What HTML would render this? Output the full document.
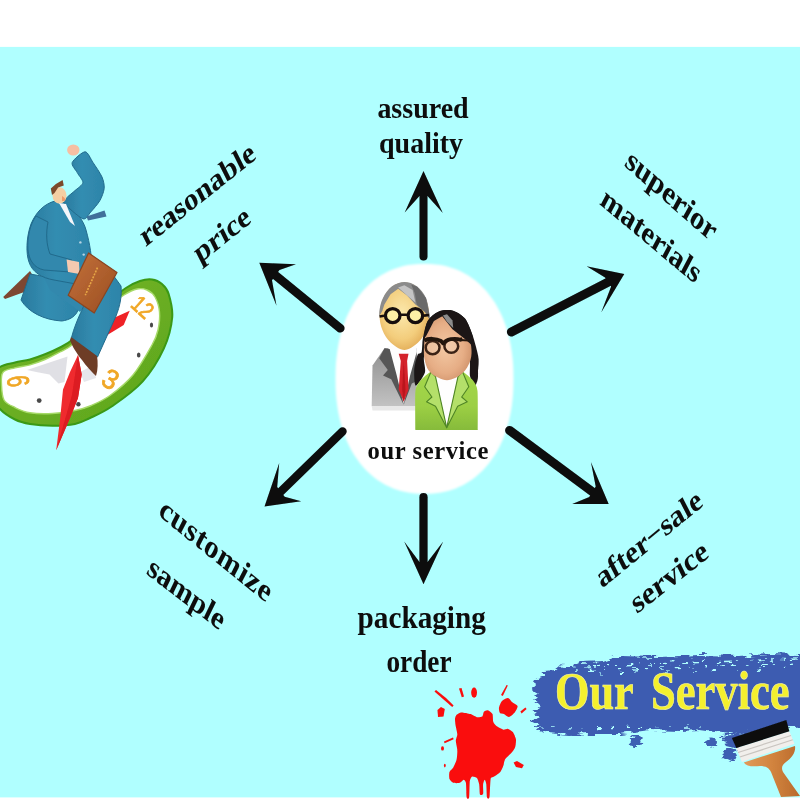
<!DOCTYPE html>
<html><head><meta charset="utf-8">
<style>
html,body{margin:0;padding:0;background:#fff;}
svg{display:block;}
text{font-family:"Liberation Serif",serif;font-weight:bold;fill:#0c0c0c;}
</style></head>
<body>
<svg width="800" height="800" viewBox="0 0 800 800">
<defs>
<filter id="b1" x="-5%" y="-5%" width="110%" height="110%"><feGaussianBlur stdDeviation="0.6"/></filter>
<filter id="b2" x="-5%" y="-5%" width="110%" height="110%"><feGaussianBlur stdDeviation="1"/></filter>
<filter id="rough" x="-5%" y="-10%" width="110%" height="120%">
<feTurbulence type="fractalNoise" baseFrequency="0.09 0.35" numOctaves="2" seed="7" result="n"/>
<feDisplacementMap in="SourceGraphic" in2="n" scale="9" xChannelSelector="R" yChannelSelector="G" result="d"/>
<feGaussianBlur in="d" stdDeviation="0.5"/>
</filter>
</defs>
<rect x="0" y="0" width="800" height="800" fill="#ffffff"/>
<rect x="0" y="46.9" width="800" height="750.5" fill="#b0ffff"/>
<!-- BG-END -->


<!-- clock + running man -->
<defs>
<linearGradient id="gRim" x1="0" y1="0" x2="1" y2="1">
<stop offset="0" stop-color="#74b82c"/><stop offset="0.5" stop-color="#6bae22"/><stop offset="1" stop-color="#5aa51c"/>
</linearGradient>
<linearGradient id="gSuit" x1="0" y1="0" x2="1" y2="0">
<stop offset="0" stop-color="#2a7a9e"/><stop offset="0.45" stop-color="#338db1"/><stop offset="1" stop-color="#2d84a9"/>
</linearGradient>
<linearGradient id="gCase" x1="0" y1="0" x2="1" y2="1">
<stop offset="0" stop-color="#c4713a"/><stop offset="1" stop-color="#9a4e22"/>
</linearGradient>
</defs>
<g id="clockman" filter="url(#b1)">
<!-- clock rim -->
<path d="M152.0 279.5 C155.7 280.0 159.2 281.6 162.0 284.0 C164.8 286.4 166.9 288.1 168.6 293.7 C170.3 299.3 173.0 308.4 172.2 317.5 C171.4 326.6 168.8 337.7 163.9 348.4 C159.0 359.1 151.2 371.9 142.5 381.6 C133.8 391.3 120.3 400.4 111.6 406.5 C102.8 412.6 96.1 415.1 90.0 418.0 C83.9 420.9 81.2 422.7 75.0 424.0 C68.8 425.3 60.0 425.8 52.5 425.8 C45.0 425.8 36.2 425.1 30.0 424.0 C23.8 422.9 20.0 422.0 15.0 419.5 C10.0 417.0 3.8 413.1 0.0 409.0 C-3.8 404.9 -6.7 400.2 -8.0 395.0 C-9.3 389.8 -9.3 382.7 -8.0 378.0 C-6.7 373.3 -3.8 369.6 0.0 367.0 C3.8 364.4 10.0 363.8 15.0 362.5 C20.0 361.2 25.0 360.9 30.0 359.5 C35.0 358.1 40.0 356.3 45.0 354.3 C50.0 352.3 55.5 349.9 60.0 347.5 C64.5 345.1 67.0 344.2 72.0 340.0 C77.0 335.8 84.0 328.3 90.0 322.0 C96.0 315.7 102.0 307.7 108.0 302.0 C114.0 296.3 120.6 291.5 125.9 288.0 C131.2 284.5 135.7 282.4 140.0 281.0 C144.3 279.6 148.3 279.0 152.0 279.5 Z" fill="url(#gRim)" stroke="#3a9916" stroke-width="2"/>
<!-- clock face -->
<path d="M147.0 290.0 C150.0 291.3 152.9 293.3 155.0 297.0 C157.1 300.7 159.0 306.5 159.5 312.0 C160.0 317.5 159.2 324.5 158.0 330.0 C156.8 335.5 156.2 337.5 152.0 345.0 C147.8 352.5 140.0 366.6 133.0 375.0 C126.0 383.4 117.2 390.3 110.0 395.5 C102.8 400.7 95.8 403.5 90.0 406.0 C84.2 408.5 81.2 409.2 75.0 410.5 C68.8 411.8 60.0 413.1 52.5 413.5 C45.0 413.9 36.2 413.8 30.0 412.8 C23.8 411.8 19.3 409.6 15.0 407.5 C10.7 405.4 6.2 403.9 4.0 400.0 C1.8 396.1 1.7 388.6 1.5 384.0 C1.3 379.4 0.8 375.0 3.0 372.3 C5.2 369.6 10.5 369.1 15.0 367.8 C19.5 366.6 25.0 366.2 30.0 364.8 C35.0 363.4 40.0 361.6 45.0 359.5 C50.0 357.4 55.5 354.4 60.0 352.0 C64.5 349.6 66.7 349.3 72.0 345.0 C77.3 340.7 85.7 332.5 92.0 326.0 C98.3 319.5 104.7 311.2 110.0 306.0 C115.3 300.8 119.5 297.8 124.0 295.0 C128.5 292.2 133.2 289.8 137.0 289.0 C140.8 288.2 144.0 288.7 147.0 290.0 Z" fill="#ffffff" stroke="#a6da68" stroke-width="1.4"/>
<path d="M27 370 L49.5 362.5 L67.5 356.5 L64.5 382 L58.5 383.5 L49.5 374.5 L37.5 372.2 Z" fill="#d5d5dc" opacity="0.75"/>
<path d="M80 372 L92 366 L96 378 L84 382 Z" fill="#dcdce2" opacity="0.7"/>
<!-- dots -->
<g fill="#4a4a4a"><ellipse cx="151.5" cy="325" rx="1.6" ry="2.6"/><ellipse cx="138.7" cy="355" rx="1.8" ry="2.6"/><circle cx="39.2" cy="400.6" r="2.4"/><circle cx="78.4" cy="404.2" r="2.2"/></g>
<!-- numerals -->
<g>
<text transform="translate(129.5,306) rotate(42) scale(0.9,1.1)" font-size="21" style="font-family:'Liberation Sans',sans-serif;font-weight:normal;fill:#f0a726;stroke:#f0a726;stroke-width:0.7">12</text>
<text transform="translate(110.5,379.5) rotate(30) scale(1.05,1.1)" font-size="25" text-anchor="middle" dominant-baseline="central" style="font-family:'Liberation Sans',sans-serif;font-weight:normal;fill:#f0a726;stroke:#f0a726;stroke-width:0.7">3</text>
<text transform="translate(18,381) rotate(82) scale(0.75,1.15)" font-size="27" text-anchor="middle" dominant-baseline="central" style="font-family:'Liberation Sans',sans-serif;font-weight:normal;fill:#f0a726;stroke:#f0a726;stroke-width:0.7">6</text>
</g>
<!-- hands -->
<path d="M106.5 335.5 L114.7 317.5 L129.7 310.7 L123.7 325 Z" fill="#ef2027"/>
<path d="M78 355 L70 372 L63 389.5 L60 420 L56.2 450.2 L70 418 L78 398 L81.7 374.5 Z" fill="#ef2a2e"/>
<path d="M78 355 L72 395 L56.2 450.2 L70 418 L78 398 L81.7 374.5 Z" fill="#dc1b21"/>

<!-- back shoe -->
<path d="M30 271 L3.2 297 L5 299 L27 291 L33 276 Z" fill="#7d4630"/>
<!-- back leg -->
<path d="M30 274 L21 300 C28 312 44 320 61.7 321 C70 320 76 316 78 310 L72 292 L54 285 L47 277 Z" fill="url(#gSuit)" stroke="#226a8c" stroke-width="1"/>
<!-- hip -->
<path d="M40 270 L50 290 L80 312 L100 290 L92 266 Z" fill="#3088ad"/>
<!-- torso -->
<path d="M55 201 C44 204 36 212 31 224 C26 238 26 254 29 262 C32 272 42 278 54 280 L76 284 L92 270 C92 258 90 244 86 230 C84 222 78 214 72 208 C68 203 62 200 55 201 Z" fill="url(#gSuit)" stroke="#226a8c" stroke-width="1"/>
<!-- raised arm -->
<path d="M72.2 162.5 C73.3 159.7 82.3 151.8 85.1 151.8 C87.9 151.8 90.7 159.1 93.0 162.5 C95.3 165.9 100.5 173.5 102.0 177.0 C103.5 180.5 104.5 185.2 104.2 188.4 C103.9 191.6 101.6 197.6 99.8 200.7 C98.0 203.8 93.0 209.6 90.7 212.0 C88.4 214.4 86.5 220.0 82.9 218.8 C79.3 217.6 66.1 205.9 64.0 203.0 C61.9 200.1 65.6 199.1 67.1 197.4 C68.6 195.7 72.9 192.6 75.0 190.6 C77.1 188.6 82.6 185.1 82.9 182.7 C83.2 180.3 78.6 175.3 77.2 172.6 C75.8 169.9 71.1 165.3 72.2 162.5 Z" fill="url(#gSuit)" stroke="#226a8c" stroke-width="1"/>
<!-- fist -->
<ellipse cx="73.3" cy="150" rx="6.2" ry="5.6" fill="#f6bfa3"/>
<!-- head -->
<ellipse cx="59.5" cy="195.5" rx="7" ry="8.3" fill="#f4cfa3"/>
<path d="M62 196 C64 197 66 199 65 201 L62 201 Z" fill="#ee9a6a"/>
<path d="M50.8 188.4 L55.9 183.9 L62.6 180 L63.8 185.5 L58.1 187.5 L54.5 193 L52 195 Z" fill="#7c4a2c"/>
<!-- shirt + tie -->
<path d="M59 203 L66 204 L75 226 L70 222 Z" fill="#f4f6fa"/>
<path d="M86.5 216.5 L104.5 210.5 L106.5 216.5 L88 220.5 Z" fill="#3f6f9a"/>
<circle cx="80.4" cy="242.4" r="1.2" fill="#b8d4e4"/><circle cx="83.7" cy="254.6" r="1.2" fill="#b8d4e4"/>
<!-- front leg -->
<path d="M108 268 L121 286 C122 296 120 306 116 316 L97.5 357 L71.5 337.5 C74 328 78 318 82 310 L90 290 Z" fill="url(#gSuit)" stroke="#226a8c" stroke-width="1"/>
<!-- front shoe -->
<path d="M71 337 L97 356 C98 362 98 370 96 376 C92 372 86 366 82 360 C77 354 72 346 70 340 Z" fill="#6e3c28"/>
<!-- left arm in front -->
<path d="M36 216 C30 224 27 238 28 250 C29 260 34 268 44 270 L70 272 L72 260 L50 254 C46 244 46 232 48 222 Z" fill="#3088ad" stroke="#226a8c" stroke-width="1"/>
<!-- hand -->
<path d="M66.6 259.5 L79 262 L79.6 274 L68 272 Z" fill="#f5c9b0"/>
<!-- briefcase -->
<path d="M88.6 253 L117 272.5 L94.2 313 L68.2 295.2 Z" fill="url(#gCase)" stroke="#8a4520" stroke-width="1.2" stroke-linejoin="round"/>
<path d="M97.5 267.6 L85.3 295.2" stroke="#e7a646" stroke-width="1.6" stroke-dasharray="2 1.2" fill="none"/>
</g>

<!-- center ellipse -->
<path id="oval" d="M513.5 378.8 L513.4 386.7 L513.1 393.6 L512.5 400.1 L511.7 406.4 L510.7 412.5 L509.5 418.3 L508.1 424.0 L506.5 429.6 L504.6 434.9 L502.6 440.0 L500.3 445.0 L497.9 449.7 L495.3 454.3 L492.4 458.6 L489.4 462.7 L486.3 466.6 L482.9 470.2 L479.4 473.6 L475.7 476.8 L471.9 479.7 L467.9 482.3 L463.8 484.7 L459.5 486.8 L455.1 488.7 L450.5 490.2 L445.8 491.5 L441.0 492.5 L435.9 493.2 L430.6 493.7 L424.5 493.8 L418.4 493.7 L413.1 493.2 L408.0 492.5 L403.2 491.5 L398.5 490.2 L393.9 488.7 L389.5 486.8 L385.2 484.7 L381.1 482.3 L377.1 479.7 L373.3 476.8 L369.6 473.6 L366.1 470.2 L362.7 466.6 L359.6 462.7 L356.6 458.6 L353.7 454.3 L351.1 449.7 L348.7 445.0 L346.4 440.0 L344.4 434.9 L342.5 429.6 L340.9 424.0 L339.5 418.3 L338.3 412.5 L337.3 406.4 L336.5 400.1 L335.9 393.6 L335.6 386.7 L335.5 378.8 L335.6 370.9 L335.9 364.0 L336.5 357.5 L337.3 351.2 L338.3 345.1 L339.5 339.3 L340.9 333.6 L342.5 328.0 L344.4 322.7 L346.4 317.6 L348.7 312.6 L351.1 307.9 L353.7 303.3 L356.6 299.0 L359.6 294.9 L362.7 291.0 L366.1 287.4 L369.6 284.0 L373.3 280.8 L377.1 277.9 L381.1 275.3 L385.2 272.9 L389.5 270.8 L393.9 268.9 L398.5 267.4 L403.2 266.1 L408.0 265.1 L413.1 264.4 L418.4 263.9 L424.5 263.8 L430.6 263.9 L435.9 264.4 L441.0 265.1 L445.8 266.1 L450.5 267.4 L455.1 268.9 L459.5 270.8 L463.8 272.9 L467.9 275.3 L471.9 277.9 L475.7 280.8 L479.4 284.0 L482.9 287.4 L486.3 291.0 L489.4 294.9 L492.4 299.0 L495.3 303.3 L497.9 307.9 L500.3 312.6 L502.6 317.6 L504.6 322.7 L506.5 328.0 L508.1 333.6 L509.5 339.3 L510.7 345.1 L511.7 351.2 L512.5 357.5 L513.1 364.0 L513.4 370.9 Z" fill="#ffffff" filter="url(#b2)"/>

<!-- arrows -->

<!-- people icon -->
<defs>
<radialGradient id="gFaceM" cx="0.45" cy="0.45" r="0.65">
<stop offset="0" stop-color="#fbe8ac"/><stop offset="0.6" stop-color="#f3cd7c"/><stop offset="1" stop-color="#dda24c"/>
</radialGradient>
<radialGradient id="gFaceW" cx="0.45" cy="0.5" r="0.65">
<stop offset="0" stop-color="#f3c9a4"/><stop offset="0.6" stop-color="#e6ad85"/><stop offset="1" stop-color="#c98a62"/>
</radialGradient>
<linearGradient id="gSuitM" x1="0" y1="0" x2="0" y2="1">
<stop offset="0" stop-color="#8f8f8f"/><stop offset="1" stop-color="#c2c2c2"/>
</linearGradient>
<linearGradient id="gJacket" x1="0" y1="0" x2="0" y2="1">
<stop offset="0" stop-color="#a4d84a"/><stop offset="0.6" stop-color="#9ccf45"/><stop offset="1" stop-color="#86bb3a"/>
</linearGradient>
<linearGradient id="gHairM" x1="0" y1="0" x2="1" y2="0">
<stop offset="0" stop-color="#7e7e7e"/><stop offset="0.5" stop-color="#a9a9a9"/><stop offset="1" stop-color="#6f6f6f"/>
</linearGradient>
</defs>
<g id="people" filter="url(#b1)">
<path d="M371.7 406.0 L416.7 406.0 L416.7 410.5 L372.5 410.5 Z" fill="#d8d8d8" opacity="0.6"/>
<path d="M384.5 348.2 L372.5 365.5 L371.7 406.0 L416.7 406.0 L416.7 348.2 Z" fill="url(#gSuitM)"/>
<path d="M387.5 346.0 L416.7 346.0 L416.7 355.0 L403.7 403.0 L390.5 355.0 Z" fill="#fdfdfd"/>
<path d="M384.5 348.2 L389.7 349.0 L396.5 374.5 L403.7 404.8 L391.2 379.3 L383.0 375.4 L387.8 370.0 L379.2 358.3 Z" fill="#575757"/>
<path d="M416.7 352.0 L410.0 376.0 L403.7 404.8 L411.8 383.5 L416.7 381.2 Z" fill="#575757"/>
<path d="M398.7 353.8 L408.5 353.8 L407.1 361.0 L408.6 389.5 L403.7 401.8 L398.7 389.5 L400.8 361.0 Z" fill="#d4212b"/>
<path d="M403.7 361.0 L405.5 389.5 L403.7 401.8 L402.2 389.5 Z" fill="#b9141f"/>
<path d="M404.4 282.6 C408.5 282.6 413.2 284.1 416.7 286.7 C420.3 289.3 423.6 293.7 425.7 298.4 C427.7 303.1 429.0 309.6 429.1 314.9 C429.2 320.1 428.2 325.4 426.4 330.0 C424.5 334.6 421.8 339.0 418.1 342.4 C414.5 345.7 409.0 349.9 404.4 349.9 C399.8 349.9 394.3 345.7 390.6 342.4 C387.0 339.0 384.2 334.6 382.4 330.0 C380.5 325.4 379.5 320.1 379.6 314.9 C379.7 309.6 381.0 303.1 383.1 298.4 C385.1 293.7 388.4 289.3 392.0 286.7 C395.6 284.1 400.2 282.6 404.4 282.6 Z" fill="url(#gFaceM)"/>
<path d="M379.3 316.2 C379.4 315.1 379.0 312.5 379.6 309.4 C380.2 306.3 381.0 301.5 383.1 297.7 C385.1 293.8 388.4 288.9 392.0 286.3 C395.6 283.7 400.2 282.1 404.4 282.1 C408.5 282.1 413.2 283.6 416.7 286.3 C420.3 288.9 423.8 293.3 426.0 298.1 C428.1 302.9 429.0 311.4 429.5 314.9 C430.1 318.4 429.4 318.3 429.4 319.0 L425.0 312.1 L415.4 304.6 L407.1 295.6 L398.2 288.7 L390.6 294.2 L384.4 304.6 L382.4 310.7 Z" fill="#8b8b8b"/>
<path d="M411.2 284.6 L417.4 286.7 L426.0 298.1 L429.5 314.9 L429.4 319.0 L425.0 312.1 L416.7 304.6 L414.7 292.9 Z" fill="#6b6b6b"/>
<path d="M398.2 287.6 L404.4 285.3 L412.6 290.1 L415.4 302.5 L407.1 295.6 Z" fill="#c4c4c4"/>
<g fill="#fdf0a6" stroke="#17110b" stroke-width="3.3">
<ellipse cx="392.7" cy="315.6" rx="7.3" ry="7"/><ellipse cx="415.4" cy="315.6" rx="7.3" ry="7"/>
</g>
<path d="M400.5 314.8 L407.5 314.8 M384 315.8 L379.5 316.5 M424 315.6 L429 315" stroke="#17110b" stroke-width="2.6" fill="none"/>
<path d="M422.9 338.2 C423.8 334.1 425.6 324.6 427.7 321.1 C429.9 317.5 435.4 312.8 438.7 311.4 C442.0 310.0 449.0 309.6 452.5 310.5 C456.0 311.4 462.3 315.3 464.9 318.3 C467.4 321.3 470.3 329.0 471.7 332.7 C473.2 336.5 475.0 343.0 475.9 346.5 C476.8 350.0 478.3 355.6 478.6 358.9 C478.9 362.2 478.3 368.5 477.9 371.2 C477.6 374.0 475.9 379.7 475.9 379.5 C475.9 379.3 477.5 370.1 477.8 370.0 C478.1 369.9 478.2 376.9 477.8 379.0 C477.4 381.1 475.8 386.1 474.8 385.7 C473.8 385.3 470.8 379.7 470.0 376.0 C469.2 372.3 471.3 360.8 468.5 358.0 C465.7 355.2 454.8 355.4 449.0 355.0 C443.2 354.6 428.2 352.7 425.0 355.0 C421.8 357.3 426.2 368.1 425.0 372.2 C423.8 376.3 417.1 386.0 415.7 385.7 C414.3 385.4 414.0 374.1 414.2 370.0 C414.4 365.9 416.5 357.4 417.5 355.0 C418.5 352.6 420.8 354.2 421.6 352.0 C422.3 349.8 422.1 342.4 422.9 338.2 Z" fill="#1b1919"/>
<path d="M415.4 430.0 C415.4 426.1 414.9 395.9 415.4 391.0 C415.9 386.0 418.9 382.4 420.5 380.5 C422.1 378.6 428.4 372.8 431.0 371.8 C433.6 370.8 443.6 370.7 446.7 370.7 C449.9 370.7 459.9 370.8 462.5 371.8 C465.1 372.8 471.5 378.6 473.0 380.5 C474.5 382.4 477.0 386.0 477.5 391.0 C478.0 395.9 477.8 426.1 477.8 430.0 Z" fill="url(#gJacket)"/>
<path d="M435.2 375.2 L458.3 375.2 L446.7 427.7 Z" fill="#fefefe"/>
<path d="M431.0 371.8 L435.5 376.7 L446.7 427.7 L435.5 406.3 L426.5 401.8 L431.9 397.0 L424.7 386.8 Z" fill="#b4e06a" stroke="#4f8526" stroke-width="1.1" stroke-linejoin="round"/>
<path d="M462.5 371.8 L458.0 376.7 L446.7 427.7 L457.7 406.3 L467.3 401.8 L461.7 397.0 L468.8 386.8 Z" fill="#b4e06a" stroke="#4f8526" stroke-width="1.1" stroke-linejoin="round"/>
<path d="M447.0 315.6 C450.7 315.6 454.7 316.6 458.0 319.0 C461.3 321.4 464.7 325.4 466.9 330.0 C469.1 334.6 470.6 341.5 471.2 346.5 C471.8 351.5 471.8 355.8 470.4 360.2 C468.9 364.7 466.3 370.0 462.4 373.3 C458.5 376.6 452.2 380.2 447.0 380.2 C441.8 380.2 434.9 376.4 431.2 373.3 C427.5 370.2 426.2 366.1 425.0 361.6 C423.8 357.2 423.7 351.8 424.0 346.5 C424.4 341.2 425.1 334.6 427.1 330.0 C429.1 325.4 432.7 321.4 436.0 319.0 C439.3 316.6 443.3 315.6 447.0 315.6 Z" fill="url(#gFaceW)"/>
<path d="M423.3 339.6 C424.1 336.5 425.2 325.7 427.7 321.1 C430.3 316.4 434.6 313.6 438.7 311.8 C442.9 310.1 448.1 309.6 452.5 310.7 C456.9 311.9 461.6 314.8 464.9 318.7 C468.1 322.6 470.5 329.5 472.0 334.1 C473.5 338.8 473.5 344.4 473.8 346.5 L471.1 344.4 L464.9 338.9 L452.5 329.3 L442.2 316.2 L433.9 321.1 L426.4 335.5 Z" fill="#1b1919"/>
<path d="M442.9 315.6 L447.0 314.2 L452.5 320.4 L453.2 327.9 L447.0 321.7 Z" fill="#8c8c8c"/>
<g fill="#f2cfb2" fill-opacity="0.55" stroke="#3a2416" stroke-width="2.5">
<ellipse cx="432.6" cy="347.6" rx="6.9" ry="6.6"/><ellipse cx="451.3" cy="346.2" rx="6.9" ry="6.6"/>
</g>
<path d="M424.3 340.6 C428 338.2 436 338 441 341 L443.2 343.6 C446 339.2 455 337.6 460.4 339.8 L462.5 339" stroke="#241711" stroke-width="3.8" fill="none" stroke-linejoin="round"/>
<path d="M460 340 L469 340.5" stroke="#241711" stroke-width="2" fill="none"/>
</g>

<!-- red splat -->
<g id="splat" fill="#fa0a0a" filter="url(#b1)">
<path d="M456.6 714.8 C457.3 714.1 459.7 712.6 461.3 712.5 C462.9 712.4 468.8 713.6 470.6 714.1 C472.4 714.6 475.5 716.9 476.9 717.2 C478.3 717.5 481.5 717.0 482.3 716.4 C483.1 715.8 483.3 712.4 483.9 711.7 C484.5 711.0 486.8 709.9 487.8 710.2 C488.8 710.5 491.9 712.7 492.5 714.1 C493.1 715.5 492.8 720.4 493.3 721.9 C493.8 723.4 496.0 725.7 497.2 726.6 C498.4 727.5 502.1 729.4 503.4 729.7 C504.7 730.0 507.0 728.6 508.1 728.9 C509.2 729.2 511.9 730.8 512.8 732.0 C513.7 733.2 515.6 737.4 515.9 739.1 C516.2 740.8 515.7 745.3 515.2 746.9 C514.7 748.5 512.5 751.6 511.3 753.1 C510.1 754.6 505.9 757.9 505.0 759.4 C504.1 760.9 503.9 764.1 503.4 765.6 C502.9 767.1 501.4 770.6 500.3 771.9 C499.2 773.2 495.2 775.9 494.1 776.6 C493.0 777.3 491.4 777.2 490.9 778.1 C490.4 779.0 490.4 782.1 490.2 784.4 C490.0 786.7 489.8 796.0 489.4 797.5 C489.0 799.0 487.4 799.0 487.0 797.5 C486.6 796.0 486.6 786.5 486.3 784.4 C486.0 782.3 485.1 779.7 484.7 779.7 C484.3 779.7 483.3 782.8 483.1 784.4 C482.9 786.0 483.5 792.6 483.1 793.8 C482.7 795.0 480.5 795.6 480.0 794.5 C479.5 793.4 479.6 786.3 479.2 784.4 C478.8 782.5 477.7 779.0 476.9 778.1 C476.1 777.2 473.0 776.2 472.2 776.6 C471.4 777.0 470.2 778.9 469.8 781.3 C469.4 783.7 469.5 795.6 469.1 797.5 C468.7 799.4 467.1 799.2 466.7 797.5 C466.3 795.8 466.3 784.9 465.9 782.8 C465.5 780.7 464.3 779.7 463.6 779.7 C462.9 779.7 460.9 782.4 459.7 782.8 C458.5 783.2 454.6 783.3 453.4 782.8 C452.2 782.3 450.0 780.2 449.5 778.9 C449.0 777.6 449.0 773.3 449.5 771.9 C450.0 770.5 452.6 768.7 453.4 767.2 C454.2 765.7 456.1 761.4 456.6 759.4 C457.1 757.4 457.4 752.2 457.3 750.0 C457.2 747.8 455.8 742.4 455.8 740.6 C455.8 738.8 457.3 736.0 457.3 734.4 C457.3 732.8 456.1 728.4 455.8 726.6 C455.5 724.8 454.9 720.2 455.0 718.8 C455.1 717.4 455.9 715.5 456.6 714.8 Z"/>
<path d="M499.0 707.5 C499.3 705.9 500.8 702.3 502.0 701.0 C503.2 699.7 506.7 697.9 508.0 698.0 C509.3 698.1 510.7 700.9 512.0 702.0 C513.3 703.1 517.1 704.7 517.5 706.0 C517.9 707.3 516.1 710.5 515.0 712.0 C513.9 713.5 510.5 716.7 509.0 717.0 C507.5 717.3 505.2 714.5 504.0 714.0 C502.8 713.5 500.7 713.9 500.0 713.0 C499.3 712.1 498.7 709.1 499.0 707.5 Z"/>
<path d="M437.5 710 L441 707 L444.8 709 L443.5 716.5 L438 717 Z"/>
<path d="M434.5 691.5 L436 690 L446 698 L453.6 705.5 L452.2 707 L443 699 Z"/>
<path d="M459 688.5 L461.5 688 L464 696.5 L461.8 697.2 Z"/>
<ellipse cx="474.1" cy="692.6" rx="2.9" ry="5.1"/>
<path d="M501 695 L506.6 685 L507.8 685.6 L502.8 696 Z"/>
<path d="M520.4 711.6 L525.4 707.4 L526.6 709 L521.6 713.4 Z"/>
<path d="M513.6 762.5 L517 761 L523.8 765 L522 768.2 L516 767 Z"/>
<path d="M444 741.4 L453 737.6 L453.6 739.2 L444.6 743.2 Z"/>
<ellipse cx="442.5" cy="748.4" rx="1.5" ry="2.2"/>
<ellipse cx="444.8" cy="765.6" rx="0.9" ry="1.8"/>
</g>

<!-- blue stroke -->
<g id="stroke" filter="url(#rough)">
<path d="M531 690 L536 684 L534 680 L542 677 L544 672 L554 671 L560 666 L572 666 L580 662 L604 661 L618 656 L660 657 L700 655 L740 656 L770 654 L830 656 L830 726 L790 728 L780 726 L760 731 L736 735 L700 730 L680 731 L650 730 L620 734 L590 734 L570 735 L548 733 L536 729 L540 724 L531 722 L538 716 L532 712 L540 706 L533 700 L538 695 Z" fill="#3d5cb1"/>
<g stroke="#b0ffff" fill="none" stroke-linecap="butt">
<path d="M560 667 L800 659" stroke-width="1.6" stroke-dasharray="7 5 3 9 5 4"/>
<path d="M575 671 L800 663" stroke-width="1.4" stroke-dasharray="3 11 6 8 2 13"/>
<path d="M600 674 L800 668" stroke-width="1.2" stroke-dasharray="2 17 4 23"/>
<path d="M540 728 L700 727" stroke-width="1.2" stroke-dasharray="4 9 2 14"/>
</g>
<ellipse cx="635.5" cy="741.5" rx="6" ry="5.5" fill="#3d5eb3"/>
<ellipse cx="711" cy="743" rx="5" ry="4.5" fill="#3d5eb3"/>
<ellipse cx="730" cy="755" rx="6.5" ry="6" fill="#3d5eb3"/>
<path d="M720 736 L745 734 L738 748 L726 745 Z" fill="#3d5cb1"/>
</g>
<g filter="url(#b1)">
<text transform="translate(555,708.7) scale(1,1.215)" font-size="44.3" style="fill:#f4f02e;stroke:#f9f7a0;stroke-width:0.5">Our</text>
<text transform="translate(651,708.7) scale(1,1.215)" font-size="44.6" style="fill:#f4f02e;stroke:#f9f7a0;stroke-width:0.5">Service</text>
</g>

<!-- brush -->
<defs>
<linearGradient id="gWood" x1="0" y1="0" x2="1" y2="0">
<stop offset="0" stop-color="#e09a5a"/><stop offset="0.5" stop-color="#d2843f"/><stop offset="1" stop-color="#b96a2c"/>
</linearGradient>
</defs>
<g id="brush" filter="url(#b1)">
<path d="M743.8 762.5 L795 746 C796 752 792 758 786 762 C782 765 781 768 783 772 L800 796 L781 797 L771 772 C769 768 766 766 760 766 C752 767 746 766 743.8 762.5 Z" fill="url(#gWood)"/>
<path d="M736.3 748.1 L789.4 731.3 L794.4 743.8 L741.9 761.9 Z" fill="#f1efec"/>
<path d="M738 752.5 L791 735.5 M739.8 757 L792.8 739.8" stroke="#c9c5c0" stroke-width="1.2" fill="none"/>
<path d="M731.9 738.1 L786.3 720 L789.4 731.3 L736.3 748.1 Z" fill="#0c0c0e"/>
</g>

<g id="arrows" filter="url(#b1)">
<path d="M423.5 256.5 L423.5 187.2" fill="none" stroke="#0a0a0a" stroke-width="8" stroke-linecap="round"/>
<path d="M423.5 171.0 L404.7 212.5 L419.5 196.0 L427.5 196.0 L442.8 213.0 Z" fill="#0a0a0a"/>
<path d="M340.3 328.3 L270.0 270.8" fill="none" stroke="#0a0a0a" stroke-width="8.6" stroke-linecap="round"/>
<path d="M259.3 262.7 L296.0 264.2 L279.5 270.0 L272.0 280.3 L276.5 305.8 Z" fill="#0a0a0a"/>
<path d="M511.4 331.9 L613.7 279.2" fill="none" stroke="#0a0a0a" stroke-width="9" stroke-linecap="round"/>
<path d="M624.3 274.1 L586.6 266.3 L605.0 277.6 L611.1 286.4 L601.2 312.6 Z" fill="#0a0a0a"/>
<path d="M342.5 431.5 L275.2 497.0" fill="none" stroke="#0a0a0a" stroke-width="8.4" stroke-linecap="round"/>
<path d="M264.5 506.5 L279.2 463.0 L277.2 487.0 L284.7 496.7 L301.2 501.2 Z" fill="#0a0a0a"/>
<path d="M509.6 430.4 L598.1 496.0" fill="none" stroke="#0a0a0a" stroke-width="9" stroke-linecap="round"/>
<path d="M608.7 504.0 L590.9 462.1 L595.7 486.5 L589.2 497.0 L572.2 504.0 Z" fill="#0a0a0a"/>
<path d="M423.5 497.2 L423.5 569.8" fill="none" stroke="#0a0a0a" stroke-width="8.2" stroke-linecap="round"/>
<path d="M423.5 584.2 L404.2 541.5 L419.5 562.0 L427.5 562.0 L443.2 541.5 Z" fill="#0a0a0a"/>
</g>

<!-- labels -->
<g id="labels" filter="url(#b1)">
<text transform="translate(423,117.5) scale(1,1.08)" font-size="28" text-anchor="middle">assured</text>
<text transform="translate(421,153) scale(1,1.08)" font-size="28" text-anchor="middle">quality</text>
<text transform="translate(201.4,202.7) scale(1,1.26) rotate(-32.3) scale(1,0.857)" font-size="28.8" letter-spacing="0" text-anchor="middle">reasonable</text>
<text transform="translate(226,243) scale(1,1.26) rotate(-32.5) scale(1,0.857)" font-size="28.8" letter-spacing="0" text-anchor="middle">price</text>
<text transform="translate(667,203.5) scale(1,1.26) rotate(34.8) scale(1,0.857)" font-size="29.4" letter-spacing="0" text-anchor="middle">superior</text>
<text transform="translate(647,244) scale(1,1.26) rotate(33.5) scale(1,0.857)" font-size="28.9" letter-spacing="0" text-anchor="middle">materials</text>
<text transform="translate(212,559) scale(1,1.26) rotate(32.8) scale(1,0.857)" font-size="29.4" letter-spacing="0.7" text-anchor="middle">customize</text>
<text transform="translate(182.5,602) scale(1,1.26) rotate(31.5) scale(1,0.857)" font-size="29" letter-spacing="0" text-anchor="middle">sample</text>
<text transform="translate(653,547) scale(1,1.26) rotate(-33) scale(1,0.857)" font-size="28.8" letter-spacing="0" text-anchor="middle">after−sale</text>
<text transform="translate(673.5,585.5) scale(1,1.26) rotate(-32) scale(1,0.857)" font-size="29.4" letter-spacing="0" text-anchor="middle">service</text>
<text transform="translate(421.7,628) scale(1,1.1)" font-size="29.2" text-anchor="middle">packaging</text>
<text transform="translate(419,672) scale(0.91,1.08)" font-size="30" text-anchor="middle">order</text>
<text x="428.3" y="459" font-size="24.6" letter-spacing="0.6" text-anchor="middle">our service</text>
</g>
</svg>
</body></html>
